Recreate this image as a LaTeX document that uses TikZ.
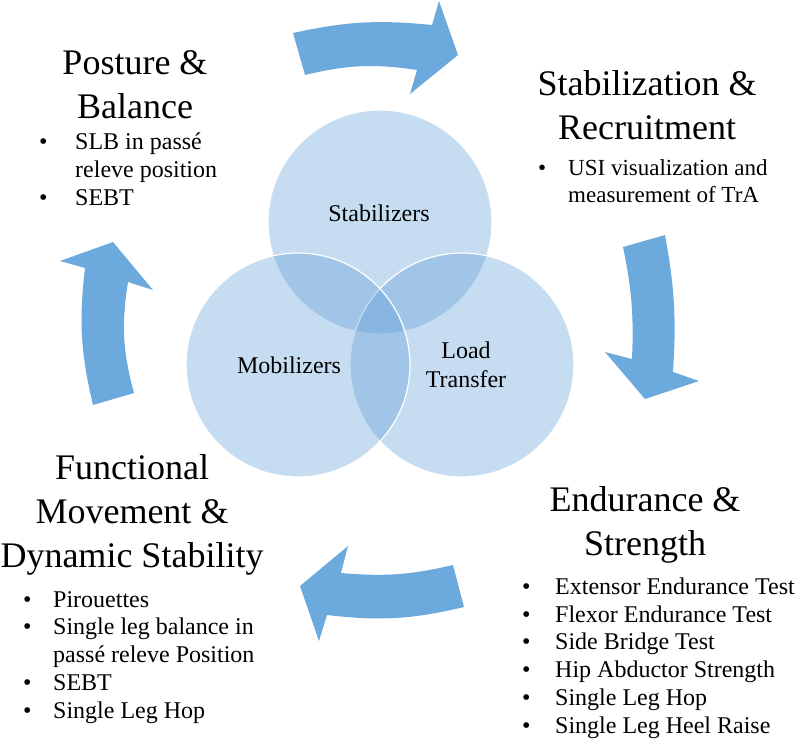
\documentclass[tikz,border=0pt]{standalone}
\usepackage{fontspec}
\setmainfont{Liberation Serif}
\usetikzlibrary{positioning}

\definecolor{arrowblue}{RGB}{108,169,220}
\definecolor{vennblue}{RGB}{91,155,213}

% bullet with hanging indent
\newcommand{\bul}[1][36pt]{\makebox[#1][l]{\textbullet}}

\tikzset{
  venn/.style={circle,minimum size=224pt,inner sep=0pt,fill=vennblue,fill opacity=.35,draw=white,line width=1.2pt},
  cyclearrow/.style={fill=arrowblue,draw=none},
  heading/.style={font=\fontsize{36}{44}\selectfont,align=center,inner sep=0pt,anchor=base},
  items/.style={font=\fontsize{24}{27.7}\selectfont,align=left,inner sep=0pt,anchor=base west},
  vennlabel/.style={font=\fontsize{24}{29}\selectfont,align=center,inner sep=0pt,anchor=base}
}

\begin{document}
\begin{tikzpicture}[x=1pt,y=-1pt]
\useasboundingbox (0,0) rectangle (800,742);

% the three circles
\node[venn] (stabc) at (380,222) {};
\node[venn] (loadc) at (462,365) {};
\node[venn] (mobc) at (298,365) {};

% (base of a node with several lines = its last line)
\node[vennlabel] (stablab) at (379,221) {Stabilizers};
\node[vennlabel] (moblab) at (289,373) {Mobilizers};
\node[vennlabel] (loadlab) at (466,387) {Load\\Transfer};

% curved arrows round the cycle
\fill[cyclearrow] (293,33) to[bend left=9] (432,25) -- (439,1) -- (458,55) -- (410,94) -- (417,70) to[bend right=11] (305,75) -- cycle; % top
\fill[cyclearrow] (665,235) to[bend left=7] (673,372) -- (699,381) -- (645,399) -- (605,352) -- (632,359) to[bend right=7] (623,247) -- cycle; % right
\fill[cyclearrow] (464,607) to[bend left=10] (327,615) -- (319,641) -- (300,586) -- (348,546) -- (341,573) to[bend right=9] (453,565) -- cycle; % bottom
\fill[cyclearrow] (93,405) to[bend left=10] (85,268) -- (60,261) -- (113,242) -- (153,290) -- (128,282) to[bend right=12] (134,393) -- cycle; % left

% headings
\node[heading] (posture) at (135,118) {Posture \&\\Balance};
\node[heading] (stabil) at (647,139) {Stabilization \&\\Recruitment};
\node[heading] (funct) at (132,567) {Functional\\Movement \&\\Dynamic Stability};
\node[heading] (endur) at (645,555) {Endurance \&\\Strength};

% bullet lists
\node[items] (posturelist) at (39,205) {\bul SLB in passé\\\hspace*{36pt}releve position\\\bul SEBT};
\node[items,font=\fontsize{23}{27}\selectfont] (stabillist) at (538,202) {\bul[30pt]USI visualization and\\\hspace*{30pt}measurement of TrA};
\node[items] (functlist) at (23,718) {\bul[30pt]Pirouettes\\\bul[30pt]Single leg balance in\\\hspace*{30pt}passé releve Position\\\bul[30pt]SEBT\\\bul[30pt]Single Leg Hop};
\node[items] (endurlist) at (522,733) {\bul[33pt]Extensor Endurance Test\\\bul[33pt]Flexor Endurance Test\\\bul[33pt]Side Bridge Test\\\bul[33pt]Hip Abductor Strength\\\bul[33pt]Single Leg Hop\\\bul[33pt]Single Leg Heel Raise};

\end{tikzpicture}
\end{document}
